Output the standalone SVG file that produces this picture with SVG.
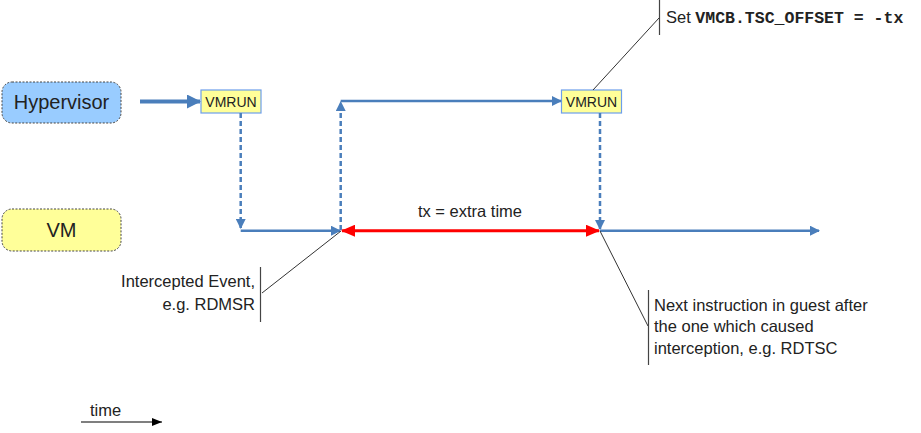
<svg xmlns="http://www.w3.org/2000/svg" width="921" height="433" viewBox="0 0 921 433">
<style>
.lbl{font-family:"Liberation Sans",Arial,sans-serif;fill:#222;}
.big{font-size:20px;}
.sm{font-size:14px;}
.mid{font-size:16.5px;}
.mono{font-family:"Liberation Mono","Courier New",monospace;font-weight:bold;}
.blue{stroke:#4a7ebb;stroke-width:2.5;fill:none;}
.dash{stroke:#4a7ebb;stroke-width:2.5;fill:none;stroke-dasharray:5,3;}
.call{stroke:#333;stroke-width:1;fill:none;}
.brk{stroke:#444;stroke-width:1.2;fill:none;}
</style>
<defs>
<marker id="ab" markerWidth="10" markerHeight="10" refX="9" refY="5" orient="auto" markerUnits="userSpaceOnUse" viewBox="0 0 10 10"><path d="M0,0 L10,5 L0,10 Z" fill="#4a7ebb"/></marker>
<marker id="abig" markerWidth="14" markerHeight="14" refX="13" refY="7" orient="auto" markerUnits="userSpaceOnUse" viewBox="0 0 14 14"><path d="M0,0 L14,7 L0,14 Z" fill="#4a7ebb"/></marker>
<marker id="ar" markerWidth="14" markerHeight="12" refX="13" refY="6" orient="auto-start-reverse" markerUnits="userSpaceOnUse" viewBox="0 0 14 12"><path d="M0,0 L14,6 L0,12 Z" fill="#ff0000"/></marker>
<marker id="ak" markerWidth="10" markerHeight="8" refX="10" refY="4" orient="auto" markerUnits="userSpaceOnUse" viewBox="0 0 10 8"><path d="M0,0 L10,4 L0,8 Z" fill="#000"/></marker>
</defs>
<rect width="921" height="433" fill="#fff"/>
<g id="hypervisor">
<rect x="2" y="82" width="119" height="41" rx="10" fill="#99ccff" stroke="#444" stroke-width="1" stroke-dasharray="2,1.5"/>
<text class="lbl big" x="61.5" y="109" text-anchor="middle">Hypervisor</text>
</g>
<g id="vm">
<rect x="2" y="209" width="119" height="42" rx="10" fill="#ffff99" stroke="#444" stroke-width="1" stroke-dasharray="2,1.5"/>
<text class="lbl big" x="61.5" y="237" text-anchor="middle">VM</text>
</g>
<g id="vmrun1">
<rect x="201" y="90" width="60" height="23" fill="#ffff99" stroke="#6d9eeb" stroke-width="1.2"/>
<text class="lbl sm" x="231" y="107" text-anchor="middle">VMRUN</text>
</g>
<g id="vmrun2">
<rect x="561.5" y="90" width="60" height="23" fill="#ffff99" stroke="#6d9eeb" stroke-width="1.2"/>
<text class="lbl sm" x="591.5" y="107" text-anchor="middle">VMRUN</text>
</g>
<g id="connectors">
<line x1="140" y1="101.5" x2="200" y2="101.5" stroke="#4a7ebb" stroke-width="4" marker-end="url(#abig)"/>
<line class="dash" x1="240.7" y1="113" x2="240.7" y2="228" marker-end="url(#ab)"/>
<line class="blue" x1="240.7" y1="230.7" x2="340" y2="230.7" marker-end="url(#ab)"/>
<line class="dash" x1="340.7" y1="230" x2="340.7" y2="102" marker-end="url(#ab)"/>
<line class="blue" x1="340.7" y1="101" x2="561" y2="101" marker-end="url(#ab)"/>
<line class="dash" x1="600" y1="113" x2="600" y2="229" marker-end="url(#ab)"/>
<line x1="342" y1="230.7" x2="599" y2="230.7" stroke="#ff0000" stroke-width="3" marker-start="url(#ar)" marker-end="url(#ar)"/>
<line class="blue" x1="600" y1="230.7" x2="819" y2="230.7" marker-end="url(#ab)"/>
<polyline class="call" points="341,231 262,293"/>
<polyline class="call" points="600,231 648,326"/>
<polyline class="call" points="593,90 659,18"/>
<line x1="81" y1="422" x2="162" y2="422" stroke="#000" stroke-width="1.2" marker-end="url(#ak)"/>
</g>
<g id="callouts">
<line class="brk" x1="260.5" y1="267" x2="260.5" y2="322"/>
<text class="lbl mid" x="255" y="287" text-anchor="end">Intercepted Event,</text>
<text class="lbl mid" x="255" y="310" text-anchor="end">e.g. RDMSR</text>
<line class="brk" x1="648.5" y1="290" x2="648.5" y2="365"/>
<text class="lbl mid" x="654" y="311">Next instruction in guest after</text>
<text class="lbl mid" x="654" y="332">the one which caused</text>
<text class="lbl mid" x="654" y="354">interception, e.g. RDTSC</text>
<line class="brk" x1="659.5" y1="0" x2="659.5" y2="35"/>
<text class="lbl mid" x="666" y="23">Set <tspan class="mono">VMCB.TSC_OFFSET = -tx</tspan></text>
<text class="lbl mid" x="470" y="217" text-anchor="middle">tx = extra time</text>
<text class="lbl mid" x="90" y="416">time</text>
</g>
</svg>
